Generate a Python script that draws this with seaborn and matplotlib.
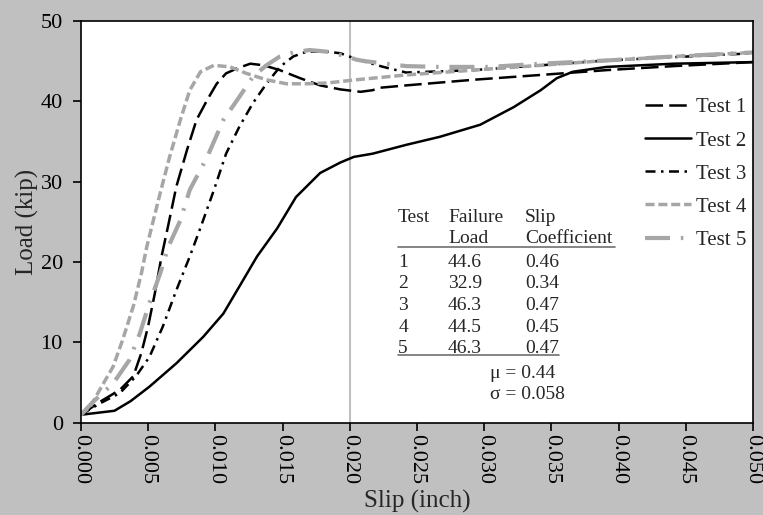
import numpy as np
import pandas as pd
import matplotlib
matplotlib.use("Agg")
import matplotlib.pyplot as plt
import seaborn as sns

# values (slip in inch, load in kip)
slip_1 = [0, 0.0014, 0.0029, 0.0039, 0.0045, 0.0050, 0.0055, 0.0060, 0.0065, 0.0071, 0.0079,
          0.0086, 0.0094, 0.0101, 0.0108, 0.0116, 0.0126, 0.0136, 0.0148, 0.0163, 0.0178,
          0.0193, 0.0208, 0.0217, 0.0222, 0.0242, 0.0292, 0.0342, 0.0391, 0.0441, 0.050]
load_1 = [1.0, 2.6, 4.1, 5.8, 8.7, 12.0, 16.1, 20.7, 24.6, 29.4, 34.0,
          37.7, 40.2, 42.2, 43.5, 44.1, 44.7, 44.5, 43.9, 42.9, 42.0,
          41.5, 41.2, 41.4, 41.7, 42.0, 42.7, 43.3, 43.9, 44.4, 44.9]

slip_2 = [0, 0.0025, 0.0037, 0.0051, 0.0071, 0.0091, 0.0106, 0.0118, 0.0131, 0.0146, 0.0160,
          0.0178, 0.0193, 0.0203, 0.0217, 0.0242, 0.0267, 0.0297, 0.0322, 0.0342, 0.0354,
          0.0366, 0.0391, 0.0441, 0.050]
load_2 = [1.0, 1.5, 2.7, 4.5, 7.4, 10.7, 13.6, 17.0, 20.7, 24.2, 28.1,
          31.1, 32.4, 33.1, 33.5, 34.6, 35.6, 37.1, 39.3, 41.4, 42.9,
          43.7, 44.3, 44.7, 44.9]

slip_3 = [0, 0.0014, 0.0029, 0.0041, 0.0051, 0.0061, 0.0071, 0.0081, 0.0089, 0.0099, 0.0108,
          0.0118, 0.0128, 0.0138, 0.0148, 0.0158, 0.0168, 0.0183, 0.0193, 0.0208, 0.0225,
          0.0242, 0.0292, 0.0342, 0.0391, 0.050]
load_3 = [1.0, 2.4, 3.7, 5.8, 8.2, 12.0, 16.5, 20.7, 24.3, 29.0, 33.5,
          36.9, 39.8, 42.2, 44.3, 45.6, 46.2, 46.2, 46.0, 45.1, 44.3,
          43.6, 43.9, 44.5, 45.1, 46.0]

slip_4 = [0, 0.0007, 0.0014, 0.0024, 0.0031, 0.0039, 0.0045, 0.0049, 0.0053, 0.0059, 0.0066,
          0.0074, 0.0081, 0.0089, 0.0099, 0.0111, 0.0123, 0.0138, 0.0153, 0.0168, 0.0183,
          0.0205, 0.0242, 0.0292, 0.0342, 0.0391, 0.0441, 0.050]
load_4 = [1.0, 2.0, 4.1, 7.0, 10.3, 14.5, 18.6, 21.9, 24.6, 28.6, 33.1,
          37.7, 41.4, 43.7, 44.5, 44.3, 43.5, 42.7, 42.2, 42.2, 42.3,
          42.7, 43.3, 43.9, 44.5, 45.1, 45.6, 46.1]

slip_5 = [0, 0.0009, 0.0024, 0.0036, 0.0044, 0.0051, 0.0059, 0.0065, 0.0074, 0.0081, 0.0094,
          0.0106, 0.0118, 0.0128, 0.0138, 0.0148, 0.0158, 0.0170, 0.0183, 0.0198, 0.0205,
          0.0212, 0.0217, 0.0242, 0.0267, 0.0304, 0.0342, 0.0391, 0.0441, 0.050]
load_5 = [1.0, 2.6, 4.9, 7.8, 11.2, 14.9, 18.6, 21.9, 25.2, 29.0, 33.1,
          37.7, 40.6, 43.1, 44.5, 45.6, 46.1, 46.4, 46.2, 45.6, 45.2,
          45.0, 44.9, 44.4, 44.3, 44.3, 44.7, 45.1, 45.6, 46.1]

tests = ["Test 1", "Test 2", "Test 3", "Test 4", "Test 5"]
failure_load = ["44.6", "32.9", "46.3", "44.5", "46.3"]
slip_coeff = ["0.46", "0.34", "0.47", "0.45", "0.47"]
mu_txt = "\u03bc = 0.44"
sigma_txt = "\u03c3 = 0.058"

frames = []
for name, s, l in zip(tests, [slip_1, slip_2, slip_3, slip_4, slip_5],
                      [load_1, load_2, load_3, load_4, load_5]):
    frames.append(pd.DataFrame({"slip": s, "load": l, "test": name}))
df = pd.concat(frames, ignore_index=True)

sns.set_style("ticks")
plt.rcParams.update({"font.family": "Liberation Serif", "font.size": 14,
                     "figure.facecolor": "#c0c0c0", "axes.edgecolor": "black",
                     "axes.linewidth": 1.2})

palette = {"Test 1": "black", "Test 2": "black", "Test 3": "black",
           "Test 4": "#a6a6a6", "Test 5": "#a6a6a6"}
dashes = {"Test 1": (7, 2.5), "Test 2": "", "Test 3": (4, 2.2, 1, 2.2),
          "Test 4": (2.6, 1.1), "Test 5": (6, 2.6, 0.6, 2.6)}
widths = {"Test 1": 1.8, "Test 2": 1.8, "Test 3": 1.8, "Test 4": 2.5, "Test 5": 3.0}

fig = plt.figure(figsize=(7.63, 5.15), dpi=100)
ax = fig.add_axes([0.106, 0.179, 0.881, 0.780])

ax.axvline(0.02, color="#c0c0c0", lw=1.5, zorder=0)

sns.lineplot(data=df, x="slip", y="load", hue="test", style="test", palette=palette,
             dashes=dashes, sort=False, estimator=None, legend=False, ax=ax)
lines = ax.lines[-5:]
for ln, name in zip(lines, tests):
    ln.set_linewidth(widths[name])
    ln.set_label(name)

ax.set_xlim(0, 0.05)
ax.set_ylim(0, 50)
ax.set_xticks(np.arange(0, 0.0501, 0.005))
ax.set_xticklabels([f"{v:.3f}" for v in np.arange(0, 0.0501, 0.005)], rotation=-90)
ax.set_yticks(range(0, 51, 10))
ax.tick_params(direction="out", length=6, width=1.2, labelsize=16, colors="black")
ax.tick_params(axis="x", pad=2)
ax.tick_params(axis="y", pad=7)
ax.set_xlabel("Slip (inch)", fontsize=18, labelpad=4)
ax.set_ylabel("Load (kip)", fontsize=18, labelpad=1)
for sp in ax.spines.values():
    sp.set_visible(True)
    sp.set_color("black")

ax.legend(handles=lines, labels=tests, loc="upper right", bbox_to_anchor=(1.005, 0.835),
          frameon=False, fontsize=15, handlelength=2.25, handletextpad=0.2,
          labelspacing=0.65, borderaxespad=0.1)

# summary table
tx = [0.472, 0.546, 0.661]
ax.text(tx[0], 0.512, "Test", transform=ax.transAxes, fontsize=14, va="center")
ax.text(tx[1], 0.512, "Failure", transform=ax.transAxes, fontsize=14, va="center")
ax.text(tx[2], 0.512, "Slip", transform=ax.transAxes, fontsize=14, va="center")
ax.text(tx[1], 0.460, "Load", transform=ax.transAxes, fontsize=14, va="center")
ax.text(tx[2], 0.460, "Coefficient", transform=ax.transAxes, fontsize=14, va="center")
ax.plot([0.472, 0.795], [0.438, 0.438], transform=ax.transAxes, color="#707070", lw=1.2)
for i in range(5):
    yy = 0.400 - i * 0.054
    ax.text(tx[0], yy, str(i + 1), transform=ax.transAxes, fontsize=14, va="center")
    ax.text(tx[1], yy, failure_load[i], transform=ax.transAxes, fontsize=14, va="center")
    ax.text(tx[2], yy, slip_coeff[i], transform=ax.transAxes, fontsize=14, va="center")
ax.plot([0.472, 0.712], [0.168, 0.168], transform=ax.transAxes, color="#707070", lw=1.2)
ax.text(0.609, 0.124, mu_txt, transform=ax.transAxes, fontsize=14, va="center")
ax.text(0.609, 0.070, sigma_txt, transform=ax.transAxes, fontsize=14, va="center")

fig.savefig("out.png", dpi=100, facecolor=fig.get_facecolor())
